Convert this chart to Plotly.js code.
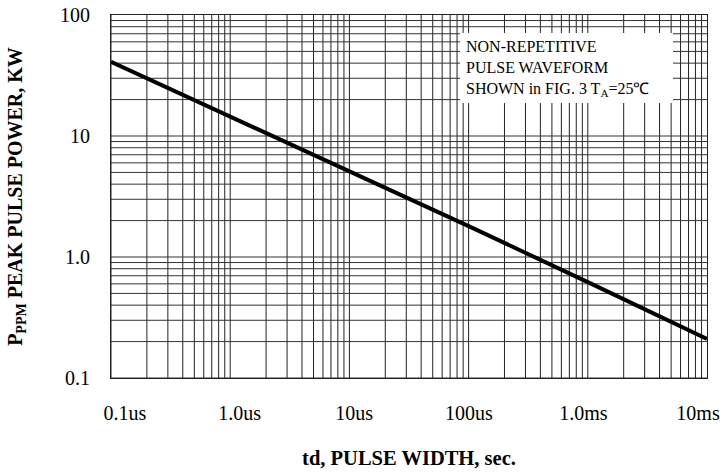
<!DOCTYPE html>
<html>
<head>
<meta charset="utf-8">
<script src="https://cdn.plot.ly/plotly-3.0.1.min.js"></script>
<style>html,body{margin:0;padding:0;background:#fff;}#chart{width:723px;height:473px;}</style>
</head>
<body>
<div id="chart"></div>
<script>
// Pulse width (seconds) and peak pulse power (kW)
const pulseWidth = [1e-7, 1e-6, 1e-5, 1e-4, 1e-3, 1e-2];
const peakPower = [41, 14.5, 5.1, 1.8, 0.62, 0.21];
const xTickVals = [1e-7, 1e-6, 1e-5, 1e-4, 1e-3, 1e-2];
const xTickText = ['0.1us', '1.0us', '10us', '100us', '1.0ms', '10ms'];
const yTickVals = [0.1, 1, 10, 100];
const yTickText = ['0.1', '1.0', '10', '100'];
const noteLines = ['NON-REPETITIVE', 'PULSE WAVEFORM', 'SHOWN in FIG. 3 T<sub>A</sub>=25℃'];

const font = 'Liberation Serif, Times New Roman, serif';

// grid lines at 1..9 per decade
const shapes = [];
for (let e = -7; e < -2; e++) {
  for (let m = 1; m < 10; m++) {
    const v = m * Math.pow(10, e);
    shapes.push({type:'line', xref:'x', yref:'paper', x0:v, x1:v, y0:0, y1:1, line:{color:'#222', width:1}, layer:'below'});
  }
}
for (let e = -1; e < 2; e++) {
  for (let m = 1; m < 10; m++) {
    const v = m * Math.pow(10, e);
    shapes.push({type:'line', xref:'paper', yref:'y', x0:0, x1:1, y0:v, y1:v, line:{color:'#333', width:1}, layer:'below'});
  }
}
// note box background
shapes.push({type:'rect', xref:'paper', yref:'paper', x0:(460-111)/596, x1:(673-111)/596, y0:(378-103)/363, y1:(378-33)/363, fillcolor:'#fff', line:{width:0}, layer:'below'});

const data = [
  {x: pulseWidth, y: peakPower, type:'scatter', mode:'lines', line:{color:'#000', width:4}, hoverinfo:'skip'},
  // empty trace that only carries the tick-label axis
  {x: xTickVals, y: xTickVals.map(() => null), xaxis:'x2', yaxis:'y', type:'scatter', mode:'lines', hoverinfo:'skip', showlegend:false}
];

const layout = {
  width:723, height:473,
  margin:{l:111, r:16, t:15, b:95},
  paper_bgcolor:'#fff', plot_bgcolor:'rgba(0,0,0,0)',
  showlegend:false,
  font:{family:font, color:'#000', size:20},
  xaxis:{
    type:'log', range:[-7, -2], domain:[0, 1],
    showgrid:false, zeroline:false, showline:true, linecolor:'#222', linewidth:1, mirror:true,
    ticks:'', showticklabels:false,
    title:{text:'<b>td, PULSE WIDTH, sec.</b>', font:{family:font, size:20.5}, standoff:72}
  },
  xaxis2:{
    type:'log', range:[-7, -2], domain:[(125-111)/596, (698-111)/596], anchor:'y', side:'bottom',
    tickvals:xTickVals, ticktext:xTickText,
    showgrid:false, zeroline:false, showline:false,
    ticks:'', ticklabelstandoff:21, ticklabeloverflow:'allow', tickfont:{family:font, size:20}
  },
  yaxis:{
    type:'log', range:[-1, 2], tickvals:yTickVals, ticktext:yTickText,
    showgrid:false, zeroline:false, showline:true, linecolor:'#222', linewidth:1, mirror:true,
    ticks:'', ticklabelstandoff:16, ticklabeloverflow:'allow', tickfont:{family:font, size:20},
    title:{text:'<b>P<sub>PPM</sub> PEAK PULSE POWER, KW</b>', font:{family:font, size:20}, standoff:32}
  },
  shapes: shapes,
  annotations:[{
    xref:'paper', yref:'paper', x:(464-111)/596, y:(378-36)/363, xanchor:'left', yanchor:'top',
    text: noteLines.join('<br>'), align:'left', showarrow:false,
    font:{family:font, size:16, color:'#000'}
  }]
};

Plotly.newPlot('chart', data, layout, {displayModeBar:false, staticPlot:true});
</script>
</body>
</html>
